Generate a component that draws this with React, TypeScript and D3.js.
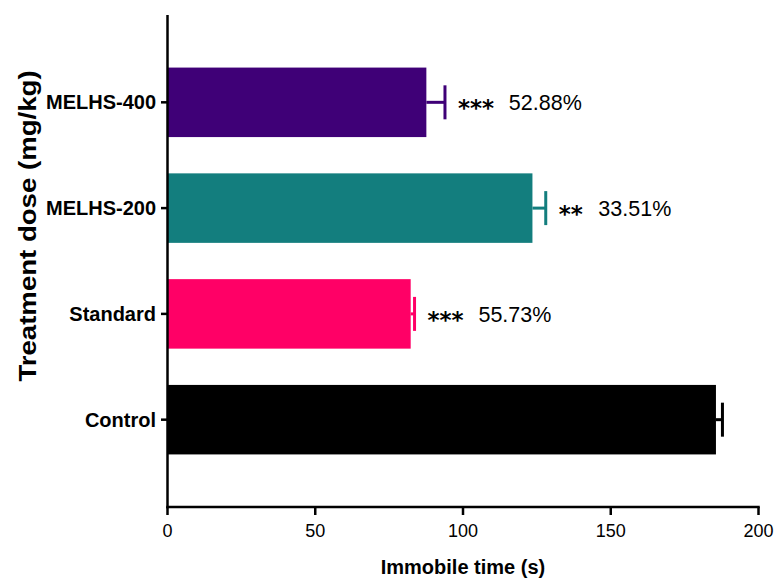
import React from "react";
import * as d3 from "d3";

const categories = ["MELHS-400", "MELHS-200", "Standard", "Control"];
const means = [87.6, 123.5, 82.3, 185.6];
const sems = [6.3, 4.5, 1.3, 2.2];
const colors = ["#3F0077", "#137E7E", "#FF0066", "#000000"];
const stars = ["***", "**", "***", ""];
const percents = ["52.88%", "33.51%", "55.73%", ""];
const xTicks = [0, 50, 100, 150, 200];

const W = 776;
const H = 579;

export default function App() {
  const x = d3.scaleLinear().domain([0, 200]).range([167.5, 758.5]);
  const y = d3
    .scaleBand<string>()
    .domain(categories)
    .range([15, 507])
    .paddingInner(0.343)
    .paddingOuter(0.497);
  const bw = y.bandwidth();
  const axisY = 507;
  const font = "'Liberation Sans', Arial, Helvetica, sans-serif";

  return (
    <svg
      width={W}
      height={H}
      style={{ position: "absolute", left: 0, top: 0, background: "#fff" }}
    >
      <rect width={W} height={H} fill="#fff" />
      {categories.map((c, i) => {
        const y0 = y(c)!;
        const cy = y0 + bw / 2;
        const xe = x(means[i] + sems[i]);
        const starX = xe + 13;
        const pctX = starX + stars[i].length * 11.3 + 17;
        return (
          <g key={c}>
            <rect
              x={x(0)}
              y={y0}
              width={x(means[i]) - x(0)}
              height={bw}
              fill={colors[i]}
            />
            <line x1={x(means[i])} x2={xe} y1={cy} y2={cy} stroke={colors[i]} strokeWidth={3} />
            <line x1={xe} x2={xe} y1={cy - 17} y2={cy + 17} stroke={colors[i]} strokeWidth={3} />
            {stars[i] && (
              <text
                x={starX}
                y={cy + 14}
                fontFamily="'DejaVu Sans', sans-serif"
                fontWeight="bold"
                fontSize={23}
                fill="#000"
              >
                {stars[i]}
              </text>
            )}
            {percents[i] && (
              <text
                x={pctX}
                y={cy + 8}
                fontFamily={font}
                fontSize={21.5}
                fill="#000"
              >
                {percents[i]}
              </text>
            )}
            <line x1={161} x2={167.5} y1={cy} y2={cy} stroke="#000" strokeWidth={2.5} />
            <text
              x={156}
              y={cy + 7}
              textAnchor="end"
              fontFamily={font}
              fontWeight="bold"
              fontSize={20}
              fill="#000"
            >
              {c}
            </text>
          </g>
        );
      })}
      <line x1={x(0)} x2={x(0)} y1={15} y2={axisY + 1.25} stroke="#000" strokeWidth={2.5} />
      <line x1={x(0) - 1.25} x2={x(200) + 1.25} y1={axisY} y2={axisY} stroke="#000" strokeWidth={2.5} />
      {xTicks.map((t) => (
        <g key={t}>
          <line x1={x(t)} x2={x(t)} y1={axisY} y2={axisY + 8} stroke="#000" strokeWidth={2.5} />
          <text
            x={x(t)}
            y={axisY + 30}
            textAnchor="middle"
            fontFamily={font}
            fontSize={18}
            fill="#000"
          >
            {t}
          </text>
        </g>
      ))}
      <text
        x={(x(0) + x(200)) / 2}
        y={574}
        textAnchor="middle"
        fontFamily={font}
        fontWeight="bold"
        fontSize={20}
        fill="#000"
      >
        Immobile time (s)
      </text>
      <text
        transform="translate(36, 226) rotate(-90) scale(1.2, 1)"
        textAnchor="middle"
        fontFamily={font}
        fontWeight="bold"
        fontSize={23}
        fill="#000"
      >
        Treatment dose (mg/kg)
      </text>
    </svg>
  );
}
